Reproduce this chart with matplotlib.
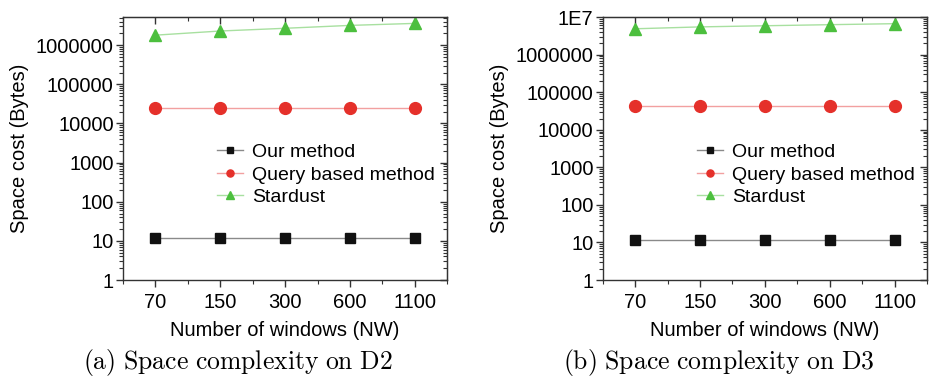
import matplotlib
matplotlib.use('Agg')
import matplotlib.pyplot as plt
from matplotlib.ticker import FixedLocator, FuncFormatter, LogLocator, NullFormatter

plt.rcParams['font.family'] = ['Liberation Sans', 'DejaVu Sans']
plt.rcParams['mathtext.fontset'] = 'cm'

windows = ['70', '150', '300', '600', '1100']

# space cost in bytes, dataset D2
d2_ours = [12, 12, 12, 12, 12]
d2_query = [25000, 25000, 25000, 25000, 25000]
d2_stardust = [1.8e6, 2.3e6, 2.7e6, 3.2e6, 3.6e6]

# space cost in bytes, dataset D3
d3_ours = [12, 12, 12, 12, 12]
d3_query = [42000, 42000, 42000, 42000, 42000]
d3_stardust = [4.9e6, 5.5e6, 5.9e6, 6.3e6, 6.7e6]

series_names = ['Our method', 'Query based method', 'Stardust']
captions = ['(a) Space complexity on D2', '(b) Space complexity on D3']

FS = 14.5
spine_c = '#333333'


def ylabel_fmt(v, pos):
    if v >= 1e7:
        return '1E7'
    return '%d' % round(v)


def draw(ax, ours, query, stardust, ytop):
    x = range(len(windows))
    ax.plot(x, ours, color='#8a8a8a', lw=1.0, marker='s', ms=7,
            mfc='#111111', mec='#111111', label=series_names[0])
    ax.plot(x, query, color='#f2a0a0', lw=1.0, marker='o', ms=8.5,
            mfc='#e5302a', mec='#e5302a', label=series_names[1])
    ax.plot(x, stardust, color='#a8e0a0', lw=1.0, marker='^', ms=9,
            mfc='#4cbf3e', mec='#4cbf3e', label=series_names[2])

    ax.set_yscale('log')
    ax.set_ylim(1, ytop)
    ax.set_xlim(-0.5, len(windows) - 0.5)

    ax.yaxis.set_major_locator(LogLocator(base=10, numticks=20))
    ax.yaxis.set_minor_locator(LogLocator(base=10, subs=range(2, 10), numticks=20))
    ax.yaxis.set_major_formatter(FuncFormatter(ylabel_fmt))
    ax.yaxis.set_minor_formatter(NullFormatter())

    ax.xaxis.set_major_locator(FixedLocator(list(x)))
    ax.xaxis.set_minor_locator(FixedLocator([i + 0.5 for i in range(-1, len(windows))]))
    ax.set_xticklabels(windows)

    ax.tick_params(which='major', direction='out', length=5, width=1,
                   color=spine_c, labelsize=FS, pad=4)
    ax.tick_params(axis='y', which='major', pad=1.5)
    ax.tick_params(which='minor', direction='out', length=3, width=0.8,
                   color=spine_c)
    for s in ax.spines.values():
        s.set_color(spine_c)
        s.set_linewidth(1.0)

    # mirrored ticks pointing inward on the top and right spines
    top = ax.secondary_xaxis('top')
    top.xaxis.set_major_locator(FixedLocator(list(x)))
    top.xaxis.set_minor_locator(FixedLocator([i + 0.5 for i in range(-1, len(windows))]))
    top.tick_params(which='major', direction='in', length=5, width=1,
                    color=spine_c, labeltop=False)
    top.tick_params(which='minor', direction='in', length=3, width=0.8,
                    color=spine_c)
    top.spines['top'].set_color(spine_c)

    right = ax.secondary_yaxis('right')
    right.set_yscale('log')
    right.yaxis.set_major_locator(LogLocator(base=10, numticks=20))
    right.yaxis.set_minor_locator(LogLocator(base=10, subs=range(2, 10), numticks=20))
    right.yaxis.set_major_formatter(NullFormatter())
    right.yaxis.set_minor_formatter(NullFormatter())
    right.tick_params(which='major', direction='in', length=5, width=1,
                      color=spine_c, labelright=False)
    right.tick_params(which='minor', direction='in', length=3, width=0.8,
                      color=spine_c)
    right.spines['right'].set_color(spine_c)

    ax.set_ylabel('Space cost (Bytes)', fontsize=FS, labelpad=5)
    ax.set_xlabel('Number of windows (NW)', fontsize=FS, labelpad=7)

    ax.legend(loc='center left', bbox_to_anchor=(0.29, 0.40), frameon=False,
              fontsize=14, markerscale=0.6, handlelength=1.35,
              handletextpad=0.45, labelspacing=0.25, borderpad=0,
              borderaxespad=0)


fig = plt.figure(figsize=(9.3, 3.81), dpi=100)
ax1 = fig.add_axes([0.132, 0.265, 0.349, 0.690])
ax2 = fig.add_axes([0.648, 0.265, 0.349, 0.690])

draw(ax1, d2_ours, d2_query, d2_stardust, 5.2e6)
draw(ax2, d3_ours, d3_query, d3_stardust, 1e7)

# captions below each panel, set in Computer Modern
for cap, cx in zip(captions, (238 / 930, 719 / 930)):
    fig.text(cx, 1 - 362 / 381, r'$\mathrm{' + cap.replace(' ', r'\ ') + '}$',
             fontsize=18.5, ha='center', va='center')

fig.savefig('out.png', dpi=100)
